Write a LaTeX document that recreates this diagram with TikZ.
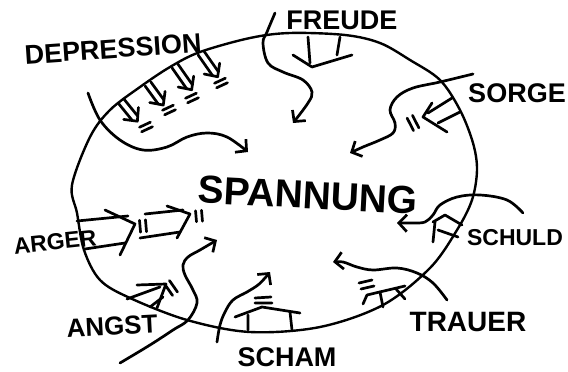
\documentclass[tikz,border=0pt]{standalone}
\usepackage{fontspec}
\setmainfont{Liberation Sans}
\usetikzlibrary{arrows.meta}
\tikzset{
  stroke/.style={line width=2.7pt, line cap=round, line join=round},
  wav/.style={stroke, -{Straight Barb[length=8pt,width=17pt]}},
  lab/.style={font=\bfseries\fontsize{#1pt}{#1pt}\selectfont, inner sep=0pt},
  pics/press/.style n args={4}{code={
    \draw[stroke] (0,#2) -- ({#1-#3*#2/(#2+#4)},#2) (0,-#2) -- ({#1-#3*#2/(#2+#4)},-#2);
    \draw[stroke] ({#1-#3},{#2+#4}) -- (#1,0) -- ({#1-#3},{-#2-#4});
  }},
  pics/eqm/.style n args={2}{code={
    \draw[stroke] (-#1,-#2) -- (#1,-#2) (-#1,#2) -- (#1,#2);
  }},
}
\begin{document}
\begin{tikzpicture}[x=1pt,y=-1pt]
\useasboundingbox (0,0) rectangle (568,372);
% big loop
\draw[stroke, line width=2.4pt] plot[smooth cycle, tension=0.55] coordinates {(72,185) (77,213) (84,250) (100,280) (130,298) (187,320) (250,332) (320,327) (383,305) (430,268) (457,230) (472,200) (477,170) (473,143) (460,110) (440,80) (410,60) (380,43) (345,35) (290,33) (250,38) (200,52) (170,67) (140,87) (110,110) (90,137)};

% labels
\node[lab=39, rotate=-3] (spannung) at (308,195) {SPANNUNG};
\node[lab=27, rotate=4] (depression) at (113,49) {DEPRESSION};
\node[lab=27] (freude) at (342,20) {FREUDE};
\node[lab=27] (sorge) at (517,93) {SORGE};
\node[lab=23] (schuld) at (515,238) {SCHULD};
\node[lab=28] (trauer) at (468,322) {TRAUER};
\node[lab=27] (scham) at (287,357) {SCHAM};
\node[lab=26, rotate=3] (angst) at (112,326) {ANGST};
\node[lab=23, rotate=6] (arger) at (55,242) {ARGER};

% depression pressure arrows
\pic[rotate=-51] at (121,101) {press={26}{3.5}{10}{6}};
\pic[rotate=-54] at (148,84) {press={26}{3.5}{10}{6}};
\pic[rotate=-55] at (175,66) {press={29}{3.5}{10}{6}};
\pic[rotate=-55] at (201,53) {press={29}{3.5}{10}{6}};
\pic[rotate=25] at (146,127) {eqm={6}{2.5}};
\pic[rotate=25] at (169,110) {eqm={6}{2.5}};
\pic[rotate=25] at (192,98) {eqm={6}{2.5}};
\pic[rotate=25] at (221,83) {eqm={6}{2.5}};
\draw[wav] plot[smooth, tension=0.6] coordinates {(88,93) (100,120) (120,140) (143,150) (167,147) (187,137) (207,133) (227,137) (248,152)};

% freude
\draw[stroke] (308,37) -- (310,63) (340,37) -- (337,55);
\draw[stroke] (293,55) -- (312,67) -- (352,55);
\draw[wav] plot[smooth, tension=0.6] coordinates {(275,13) (267,32) (263,43) (268,63) (283,72) (303,80) (312,92) (308,103) (293,123)};

% sorge
\draw[stroke] (452,98) -- (428,113) (460,112) -- (438,123);
\draw[stroke] (432,103) -- (423,117) -- (447,132);
\pic[rotate=-63] at (413,123) {eqm={7}{3}};
\draw[wav] plot[smooth, tension=0.6] coordinates {(473,74) (440,82) (413,88) (397,97) (390,110) (395,123) (393,133) (380,140) (363,147) (350,153)};

% schuld
\draw[stroke] (433,222) -- (445,215) -- (462,225);
\draw[stroke] (435,222) -- (433,242);
\draw[stroke] (438,230) -- (458,237);
\draw[wav] plot[smooth, tension=0.6] coordinates {(523,213) (507,200) (480,195) (457,197) (440,205) (433,215) (425,222) (413,223) (397,223)};

% trauer
\draw[stroke] (367,295) -- (405,286);
\draw[stroke] (367,295) -- (363,304) (380,292) -- (383,307) (396,289) -- (405,299);
\draw[stroke] (359,283) -- (372,280) (361,289) -- (374,286);
\draw[wav] plot[smooth, tension=0.6] coordinates {(447,300) (433,283) (417,273) (397,268) (373,270) (357,267) (343,262) (333,262)};

% scham
\draw[stroke] (235,317) -- (262,307) -- (300,313);
\draw[stroke] (248,315) -- (248,330) (290,312) -- (292,330);
\draw[stroke] (255,298) -- (271,297) (255,303) -- (272,303);
\draw[wav] plot[smooth, tension=0.6] coordinates {(217,342) (220,325) (225,312) (233,300) (247,292) (258,285) (265,278) (270,272)};

% angst
\draw[stroke] (127,299) -- (160,287);
\draw[stroke] (137,285) -- (166,284) -- (157,308);
\draw[stroke] (150,307) -- (163,297);
\pic[rotate=-55] at (171,288) {eqm={7}{3}};
\draw[wav] plot[smooth, tension=0.6] coordinates {(120,363) (150,345) (173,330) (188,320) (197,303) (193,290) (185,275) (183,265) (188,257) (200,250) (217,240)};

% aerger
\draw[stroke] (77,221) -- (128,216) (85,249) -- (125,243);
\draw[stroke] (105,210) -- (135,224) -- (120,255);
\pic[rotate=-85] at (143,226) {eqm={6}{3}};
\draw[stroke] (145,214) -- (183,210) (140,238) -- (180,232);
\draw[stroke] (167,206) -- (190,214) -- (177,238);
\pic[rotate=-85] at (199,216) {eqm={5.5}{3}};
\end{tikzpicture}
\end{document}
